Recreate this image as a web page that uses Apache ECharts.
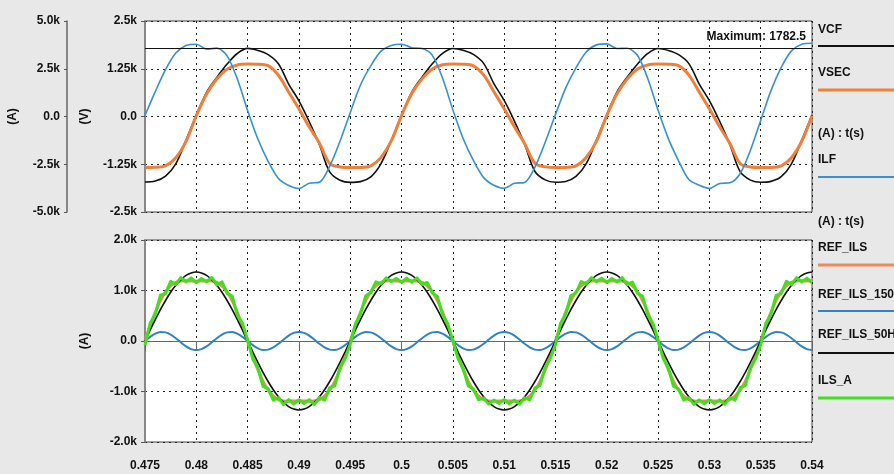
<!DOCTYPE html>
<html>
<head>
<meta charset="utf-8">
<script src="https://cdn.jsdelivr.net/npm/echarts@6/dist/echarts.min.js"></script>
<style>
  html, body { margin: 0; padding: 0; background: #e8e8e8; }
  #chart { width: 894px; height: 474px; }
</style>
</head>
<body>
<div id="chart"></div>
<script>
// Sampling grid: both panels start at t = 0.475 s
const T0 = 0.475;
const TOP_STEP = 0.001;     // upper panel samples (s)
const BOTTOM_STEP = 0.0005; // lower panel samples (s)

// Time tick labels (shared by both panels)
const X_TICK_LABELS = ['0.475','0.48','0.485','0.49','0.495','0.5','0.505','0.51','0.515','0.52','0.525','0.53','0.535','0.54'];
// Y tick labels, bottom to top
const V_TICK_LABELS = ['-2.5k','-1.25k','0.0','1.25k','2.5k'];
const A_TOP_TICK_LABELS = ['-5.0k','-2.5k','0.0','2.5k','5.0k'];
const A_BOTTOM_TICK_LABELS = ['-2.0k','-1.0k','0.0','1.0k','2.0k'];

// Upper panel (V): capacitor-filter voltage
const VCF = [
  -1715, -1690, -1560, -1240, -620, 40, 633, 1024, 1372, 1649, 1782.5, 1730, 1620, 1380, 850, 410, -130, -740, -1450, -1667,
  -1725, -1705, -1580, -1232, -625, 30, 640, 1030, 1380, 1655, 1782, 1735, 1625, 1390, 860, 420, -120, -730, -1440, -1660,
  -1720, -1700, -1570, -1235, -610, 45, 645, 1035, 1375, 1650, 1781, 1728, 1618, 1385, 855, 415, -125, -735, -1445, -1665,
  -1722, -1698, -1575, -1238, -615, 35
];
// Upper panel (V): secondary voltage
const VSEC = [
  -1335, -1330, -1290, -1080, -650, 20, 590, 980, 1240, 1350, 1372, 1370, 1330, 1080, 640, 200, -270, -700, -1230, -1320,
  -1337, -1335, -1295, -1070, -640, 25, 600, 985, 1245, 1355, 1375, 1370, 1328, 1090, 650, 205, -265, -710, -1225, -1318,
  -1336, -1332, -1292, -1075, -645, 22, 595, 982, 1242, 1352, 1373, 1369, 1331, 1085, 645, 202, -268, -705, -1228, -1322,
  -1335, -1333, -1290, -1078, -648, 20
];
// Upper panel (A): filter inductor current
const ILF = [
  50, 1300, 2450, 3320, 3720, 3786, 3526, 3578, 3177, 1960, 312, -1180, -2350, -3250, -3610, -3767, -3490, -3440, -2600, -1300,
  200, 1650, 2650, 3420, 3720, 3786, 3600, 3560, 3200, 2000, 350, -1150, -2300, -3200, -3600, -3760, -3500, -3450, -2650, -1350,
  100, 1500, 2550, 3380, 3750, 3800, 3560, 3570, 3190, 1980, 330, -1160, -2320, -3300, -3600, -3767, -3507, -3473, -2986, -1770,
  -208, 1354, 2570, 3437, 3786, 3838
];

// Lower panel (A): reference currents and measured current
const REF_ILS_50H = [
  0, 213, 422, 620, 802, 965, 1104, 1216, 1298, 1348, 1365, 1348, 1298, 1216, 1104, 965, 802, 620, 422, 213,
  0, -213, -422, -620, -802, -965, -1104, -1216, -1298, -1348, -1365, -1348, -1298, -1216, -1104, -965, -802, -620, -422, -213,
  0, 213, 422, 620, 802, 965, 1104, 1216, 1298, 1348, 1365, 1348, 1298, 1216, 1104, 965, 802, 620, 422, 213,
  0, -213, -422, -620, -802, -965, -1104, -1216, -1298, -1348, -1365, -1348, -1298, -1216, -1104, -965, -802, -620, -422, -213,
  0, 213, 422, 620, 802, 965, 1104, 1216, 1298, 1348, 1365, 1348, 1298, 1216, 1104, 965, 802, 620, 422, 213,
  0, -213, -422, -620, -802, -965, -1104, -1216, -1298, -1348, -1365, -1348, -1298, -1216, -1104, -965, -802, -620, -422, -213,
  0, 213, 422, 620, 802, 965, 1104, 1216, 1298, 1348, 1365
];
const REF_ILS_150H = [
  0, 82, 146, 178, 171, 127, 56, -28, -106, -160, -180, -160, -106, -28, 56, 127, 171, 178, 146, 82,
  0, -82, -146, -178, -171, -127, -56, 28, 106, 160, 180, 160, 106, 28, -56, -127, -171, -178, -146, -82,
  0, 82, 146, 178, 171, 127, 56, -28, -106, -160, -180, -160, -106, -28, 56, 127, 171, 178, 146, 82,
  0, -82, -146, -178, -171, -127, -56, 28, 106, 160, 180, 160, 106, 28, -56, -127, -171, -178, -146, -82,
  0, 82, 146, 178, 171, 127, 56, -28, -106, -160, -180, -160, -106, -28, 56, 127, 171, 178, 146, 82,
  0, -82, -146, -178, -171, -127, -56, 28, 106, 160, 180, 160, 106, 28, -56, -127, -171, -178, -146, -82,
  0, 82, 146, 178, 171, 127, 56, -28, -106, -160, -180
];
const REF_ILS = [
  0, 295, 568, 798, 973, 1092, 1160, 1188, 1192, 1188, 1185, 1188, 1192, 1188, 1160, 1092, 973, 798, 568, 295,
  0, -295, -568, -798, -973, -1092, -1160, -1188, -1192, -1188, -1185, -1188, -1192, -1188, -1160, -1092, -973, -798, -568, -295,
  0, 295, 568, 798, 973, 1092, 1160, 1188, 1192, 1188, 1185, 1188, 1192, 1188, 1160, 1092, 973, 798, 568, 295,
  0, -295, -568, -798, -973, -1092, -1160, -1188, -1192, -1188, -1185, -1188, -1192, -1188, -1160, -1092, -973, -798, -568, -295,
  0, 295, 568, 798, 973, 1092, 1160, 1188, 1192, 1188, 1185, 1188, 1192, 1188, 1160, 1092, 973, 798, 568, 295,
  0, -295, -568, -798, -973, -1092, -1160, -1188, -1192, -1188, -1185, -1188, -1192, -1188, -1160, -1092, -973, -798, -568, -295,
  0, 295, 568, 798, 973, 1092, 1160, 1188, 1192, 1188, 1185
];
const ILS_A = [
  -80, 355, 528, 908, 943, 1182, 1120, 1258, 1172, 1248, 1155, 1238, 1172, 1258, 1110, 1172, 943, 888, 508, 355,
  20, -355, -528, -898, -943, -1172, -1120, -1258, -1162, -1248, -1165, -1238, -1162, -1258, -1120, -1172, -923, -888, -518, -355,
  -60, 340, 540, 890, 960, 1170, 1130, 1250, 1180, 1240, 1160, 1245, 1165, 1250, 1120, 1160, 950, 880, 515, 345,
  10, -345, -540, -890, -950, -1165, -1130, -1250, -1170, -1240, -1160, -1245, -1170, -1250, -1125, -1165, -930, -880, -525, -345,
  -70, 350, 535, 900, 950, 1175, 1125, 1255, 1175, 1245, 1158, 1240, 1168, 1255, 1115, 1168, 945, 885, 512, 350,
  15, -350, -535, -895, -948, -1170, -1125, -1255, -1165, -1245, -1162, -1240, -1165, -1255, -1122, -1170, -925, -885, -520, -350,
  -75, 352, 530, 905, 945, 1180, 1122, 1256, 1170, 1246, 1157
];

const FONT = "'Liberation Sans', Arial, sans-serif";
const TEXT = '#111';
const COLORS = {
  VCF: '#111111', VSEC: '#f07f3a', ILF: '#3790d4',
  REF_ILS: '#ec8a58', REF_ILS_150H: '#2f82c4', REF_ILS_50H: '#111111', ILS_A: '#3fe01c'
};

// pair each sample with its time stamp
const withTime = (vals, step) => vals.map((v, i) => [+(T0 + i * step).toFixed(5), v]);
const tickLabel = (labels, min, interval) => v => {
  const i = Math.round((v - min) / interval);
  return labels[i] !== undefined ? labels[i] : '';
};

const VCF_MAX = Math.max(...VCF);

const gridLine = { show: true, lineStyle: { color: '#222', width: 1, type: [2, 4] } };
const boldLabel = { fontFamily: FONT, fontWeight: 'bold', fontSize: 12, color: TEXT };

const xBase = {
  type: 'value', min: 0.475, max: 0.54, interval: 0.005,
  splitLine: gridLine
};

const option = {
  animation: false,
  backgroundColor: '#e8e8e8',
  textStyle: { fontFamily: FONT },
  grid: [
    { left: 145, right: 82, top: 21, height: 191, show: true, backgroundColor: '#ffffff', borderColor: '#444', borderWidth: 1, outerBoundsMode: 'none', containLabel: false },
    { left: 145, right: 82, top: 240, height: 202, show: true, backgroundColor: '#ffffff', borderColor: '#444', borderWidth: 1, outerBoundsMode: 'none', containLabel: false }
  ],
  xAxis: [
    Object.assign({}, xBase, {
      gridIndex: 0,
      axisLabel: { show: false }, axisTick: { show: false }, axisLine: { show: false }
    }),
    Object.assign({}, xBase, {
      gridIndex: 1,
      axisLine: { show: true, lineStyle: { color: '#666', width: 1 } },
      axisTick: { show: true, length: 10, lineStyle: { color: '#666', width: 1 } },
      axisLabel: Object.assign({ margin: 18, formatter: tickLabel(X_TICK_LABELS, 0.475, 0.005) }, boldLabel)
    })
  ],
  yAxis: [
    {
      gridIndex: 0, type: 'value', min: -2500, max: 2500, interval: 1250, position: 'left',
      name: '(V)', nameLocation: 'middle', nameGap: 54, nameRotate: 90, nameTextStyle: boldLabel,
      axisLine: { show: true, lineStyle: { color: '#888', width: 2 } },
      axisTick: { show: true, length: 4, lineStyle: { color: '#555' } },
      axisLabel: Object.assign({ margin: 8, formatter: tickLabel(V_TICK_LABELS, -2500, 1250) }, boldLabel),
      splitLine: gridLine
    },
    {
      gridIndex: 0, type: 'value', min: -5000, max: 5000, interval: 2500, position: 'left', offset: 78,
      name: '(A)', nameLocation: 'middle', nameGap: 48, nameRotate: 90, nameTextStyle: boldLabel,
      axisLine: { show: true, lineStyle: { color: '#666', width: 1.5 } },
      axisTick: { show: true, length: 3, lineStyle: { color: '#555' } },
      axisLabel: Object.assign({ margin: 7, formatter: tickLabel(A_TOP_TICK_LABELS, -5000, 2500) }, boldLabel),
      splitLine: { show: false }
    },
    {
      gridIndex: 1, type: 'value', min: -2000, max: 2000, interval: 1000, position: 'left',
      name: '(A)', nameLocation: 'middle', nameGap: 54, nameRotate: 90, nameTextStyle: boldLabel,
      axisLine: { show: true, lineStyle: { color: '#888', width: 2 } },
      axisTick: { show: true, length: 4, lineStyle: { color: '#555' } },
      axisLabel: Object.assign({ margin: 8, formatter: tickLabel(A_BOTTOM_TICK_LABELS, -2000, 1000) }, boldLabel),
      splitLine: gridLine
    }
  ],
  series: [
    {
      name: 'VCF', type: 'line', xAxisIndex: 0, yAxisIndex: 0, showSymbol: false, smooth: 0.35,
      data: withTime(VCF, TOP_STEP),
      lineStyle: { color: COLORS.VCF, width: 1.6 },
      markLine: {
        silent: true, symbol: 'none',
        lineStyle: { color: '#111', width: 1, type: 'solid' },
        label: Object.assign({ position: 'insideEndTop', distance: 6, formatter: 'Maximum: ' + VCF_MAX }, boldLabel),
        data: [{ yAxis: VCF_MAX }]
      }
    },
    {
      name: 'VSEC', type: 'line', xAxisIndex: 0, yAxisIndex: 0, showSymbol: false, smooth: 0.35,
      data: withTime(VSEC, TOP_STEP),
      lineStyle: { color: COLORS.VSEC, width: 3 }
    },
    {
      name: 'ILF', type: 'line', xAxisIndex: 0, yAxisIndex: 1, showSymbol: false, smooth: 0.3,
      data: withTime(ILF, TOP_STEP),
      lineStyle: { color: COLORS.ILF, width: 1.6 }
    },
    {
      name: 'REF_ILS', type: 'line', xAxisIndex: 1, yAxisIndex: 2, showSymbol: false, smooth: 0.3,
      data: withTime(REF_ILS, BOTTOM_STEP),
      lineStyle: { color: COLORS.REF_ILS, width: 3 }
    },
    {
      name: 'REF_ILS_150H', type: 'line', xAxisIndex: 1, yAxisIndex: 2, showSymbol: false, smooth: 0.3,
      data: withTime(REF_ILS_150H, BOTTOM_STEP),
      lineStyle: { color: COLORS.REF_ILS_150H, width: 2 }
    },
    {
      name: 'REF_ILS_50H', type: 'line', xAxisIndex: 1, yAxisIndex: 2, showSymbol: false, smooth: 0.3,
      data: withTime(REF_ILS_50H, BOTTOM_STEP),
      lineStyle: { color: COLORS.REF_ILS_50H, width: 1.6 }
    },
    {
      name: 'ILS_A', type: 'line', xAxisIndex: 1, yAxisIndex: 2, showSymbol: false, smooth: false,
      data: withTime(ILS_A, BOTTOM_STEP),
      lineStyle: { color: COLORS.ILS_A, width: 3, join: 'round' }
    }
  ]
};

// Right-hand trace list: name above, line sample below
const legendItems = [
  { text: 'VCF', y: 30, line: 46, color: COLORS.VCF, w: 2 },
  { text: 'VSEC', y: 73, line: 90, color: COLORS.VSEC, w: 3 },
  { text: '(A) : t(s)', y: 134 },
  { text: 'ILF', y: 160, line: 177, color: COLORS.ILF, w: 2 },
  { text: '(A) : t(s)', y: 222 },
  { text: 'REF_ILS', y: 248, line: 265, color: COLORS.REF_ILS, w: 3 },
  { text: 'REF_ILS_150H', y: 295, line: 311, color: COLORS.REF_ILS_150H, w: 2 },
  { text: 'REF_ILS_50H', y: 335, line: 353, color: COLORS.REF_ILS_50H, w: 2 },
  { text: 'ILS_A', y: 381, line: 398, color: COLORS.ILS_A, w: 3 }
];
const graphics = [];
legendItems.forEach(it => {
  graphics.push({
    type: 'text', left: 818, top: it.y - 6,
    style: { text: it.text, font: 'bold 12px ' + FONT, fill: TEXT }
  });
  if (it.line) {
    graphics.push({
      type: 'line', shape: { x1: 818, y1: it.line, x2: 894, y2: it.line },
      style: { stroke: it.color, lineWidth: it.w }
    });
  }
});
option.graphic = graphics;

const chart = echarts.init(document.getElementById('chart'), null, { renderer: 'canvas' });
chart.setOption(option);
</script>
</body>
</html>
